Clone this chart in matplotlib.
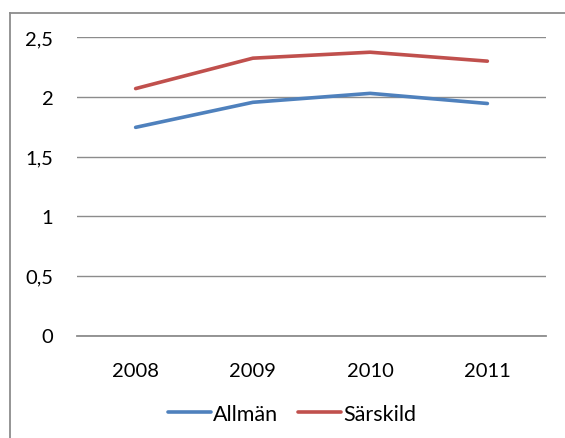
import matplotlib
matplotlib.use("Agg")
import matplotlib.pyplot as plt
from matplotlib.lines import Line2D

years = ["2008", "2009", "2010", "2011"]
allman = [1.745, 1.955, 2.03, 1.945]
sarskild = [2.07, 2.325, 2.375, 2.30]
yticks = [0, 0.5, 1, 1.5, 2, 2.5]
ylabels = ["0", "0,5", "1", "1,5", "2", "2,5"]

plt.rcParams['font.family'] = ['Lato', 'DejaVu Sans']

fig = plt.figure(figsize=(5.65, 4.39), dpi=100)
ax = fig.add_axes([77/565, 1-336.5/439, (546-77)/565, (336.5-38.3)/439])

x = range(len(years))
ax.plot(x, allman, color="#4F81BD", lw=2.6, solid_capstyle="round", label="Allmän", zorder=3)
ax.plot(x, sarskild, color="#C0504D", lw=2.6, solid_capstyle="round", label="Särskild", zorder=3)

ax.set_xlim(-0.5, 3.5)
ax.set_ylim(0, 2.5)
ax.set_yticks(yticks)
ax.set_yticklabels(ylabels)
ax.set_xticks(list(x))
ax.set_xticklabels(years)
ax.tick_params(length=0, labelsize=14.5, colors="black")
ax.tick_params(axis="y", pad=17)
ax.tick_params(axis="x", pad=19)
ax.grid(axis="y", color="#8c8c8c", lw=1)
for s in ["top", "right", "left"]:
    ax.spines[s].set_visible(False)
ax.spines["bottom"].set_color("#8c8c8c")
ax.spines["bottom"].set_linewidth(1.3)

leg = fig.legend(handles=ax.get_lines(), loc="center", bbox_to_anchor=(292/565, 1-415/439),
                 ncol=2, frameon=False, fontsize=15.5, handlelength=2.0, handletextpad=0.1,
                 columnspacing=0.9)

# outer chart border (top and left visible)
fig.add_artist(Line2D([10/565, 1], [1-14/439, 1-14/439], color="#8c8c8c", lw=1.3))
fig.add_artist(Line2D([10/565, 10/565], [0, 1-14/439], color="#8c8c8c", lw=1.3))

fig.savefig("out.png", dpi=100)
